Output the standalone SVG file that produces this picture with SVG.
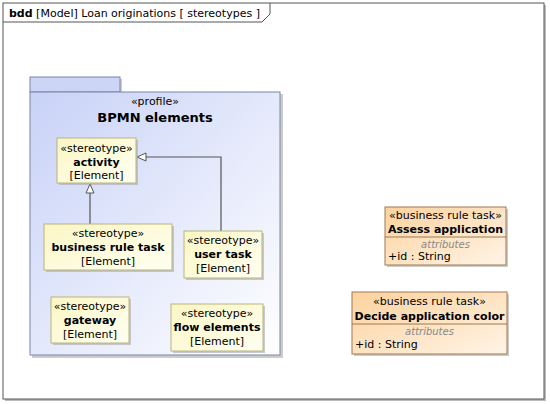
<svg xmlns="http://www.w3.org/2000/svg" width="550" height="404" viewBox="0 0 550 404">
<style>
text{font-family:"DejaVu Sans",sans-serif;font-size:11px;fill:#000}
.b{font-weight:bold}
.c{text-anchor:middle}
.it{font-style:italic;fill:#888;font-size:10px}
.st{fill:url(#gy);stroke:#b9b47a;stroke-width:1}
.br{fill:url(#go);stroke:#a07850;stroke-width:1}
.sh{fill:#aaa;opacity:0.6}
.ln{fill:none;stroke:#555;stroke-width:1.2}
</style>
<defs>
<linearGradient id="gp" x1="0" y1="0" x2="1" y2="1"><stop offset="0" stop-color="#c8d2f7"/><stop offset="1" stop-color="#ffffff"/></linearGradient>
<linearGradient id="gy" x1="0" y1="0" x2="1" y2="1"><stop offset="0" stop-color="#fbf6c4"/><stop offset="1" stop-color="#fffff2"/></linearGradient>
<linearGradient id="go" x1="0" y1="0" x2="1" y2="1"><stop offset="0" stop-color="#fcd29e"/><stop offset="1" stop-color="#fff4e6"/></linearGradient>
<marker id="tri" markerWidth="12" markerHeight="10" refX="10" refY="5" orient="auto" markerUnits="userSpaceOnUse"><path d="M1,1 L10,5 L1,9 Z" fill="#fff" stroke="#555" stroke-width="1"/></marker>
</defs>
<rect x="0" y="0" width="550" height="404" fill="#fff"/>
<g id="frame">
<rect x="5" y="5" width="541" height="396" fill="#bbb"/>
<rect x="3" y="3" width="541" height="396" fill="#fff" stroke="#555" stroke-width="1"/>
<path d="M3,22 H262 L270,14 V3" fill="none" stroke="#555" stroke-width="1"/>
<text x="9" y="17"><tspan class="b">bdd</tspan> [Model] Loan originations [  stereotypes  ]</text>
</g>
<g id="pkg">
<rect x="32" y="79" width="90" height="14" class="sh"/>
<rect x="32" y="94" width="251" height="264" class="sh"/>
<rect x="30" y="77" width="90" height="15" fill="#ccd5f5" stroke="#7a84a8" stroke-width="1"/>
<rect x="30" y="92" width="250" height="263" fill="url(#gp)" stroke="#7a84a8" stroke-width="1"/>
<text x="155" y="105" class="c">«profile»</text>
<text x="155" y="122" class="c b" style="font-size:13px">BPMN elements</text>
</g>
<g id="conn">
<line x1="90" y1="224" x2="90" y2="184" class="ln" marker-end="url(#tri)"/>
<polyline points="221,231 221,157 137,157" class="ln" marker-end="url(#tri)"/>
</g>
<g id="activity">
<rect x="59" y="140" width="79" height="45" class="sh"/>
<rect x="57" y="138" width="79" height="45" class="st"/>
<text x="96.5" y="152" class="c">«stereotype»</text>
<text x="96.5" y="166" class="c b">activity</text>
<text x="96.5" y="179" class="c">[Element]</text>
</g>
<g id="brt">
<rect x="46" y="226" width="128" height="46" class="sh"/>
<rect x="44" y="224" width="128" height="46" class="st"/>
<text x="108" y="237" class="c">«stereotype»</text>
<text x="108" y="251" class="c b">business rule task</text>
<text x="108" y="265" class="c">[Element]</text>
</g>
<g id="usertask">
<rect x="186" y="233" width="78" height="47" class="sh"/>
<rect x="184" y="231" width="78" height="47" class="st"/>
<text x="223" y="244" class="c">«stereotype»</text>
<text x="223" y="258" class="c b">user task</text>
<text x="223" y="272" class="c">[Element]</text>
</g>
<g id="gateway">
<rect x="53" y="299" width="78" height="46" class="sh"/>
<rect x="51" y="297" width="78" height="46" class="st"/>
<text x="90" y="310" class="c">«stereotype»</text>
<text x="90" y="324" class="c b">gateway</text>
<text x="90" y="338" class="c">[Element]</text>
</g>
<g id="flow">
<rect x="173" y="306" width="92" height="47" class="sh"/>
<rect x="171" y="304" width="92" height="47" class="st"/>
<text x="217" y="317" class="c">«stereotype»</text>
<text x="217" y="331" class="c b">flow elements</text>
<text x="217" y="345" class="c">[Element]</text>
</g>
<g id="assess">
<rect x="387" y="209" width="121" height="58" class="sh"/>
<rect x="385" y="207" width="121" height="58" class="br"/>
<line x1="385" y1="237" x2="506" y2="237" stroke="#a07850"/>
<text x="445.5" y="219" class="c">«business rule task»</text>
<text x="445.5" y="233" class="c b">Assess application</text>
<text x="445.5" y="248" class="c it">attributes</text>
<text x="388" y="260">+id : String</text>
</g>
<g id="decide">
<rect x="354" y="294" width="155" height="62" class="sh"/>
<rect x="352" y="292" width="155" height="62" class="br"/>
<line x1="352" y1="324" x2="507" y2="324" stroke="#a07850"/>
<text x="429.5" y="305" class="c">«business rule task»</text>
<text x="429.5" y="320" class="c b">Decide application color</text>
<text x="429.5" y="335" class="c it">attributes</text>
<text x="355" y="348">+id : String</text>
</g>
</svg>
